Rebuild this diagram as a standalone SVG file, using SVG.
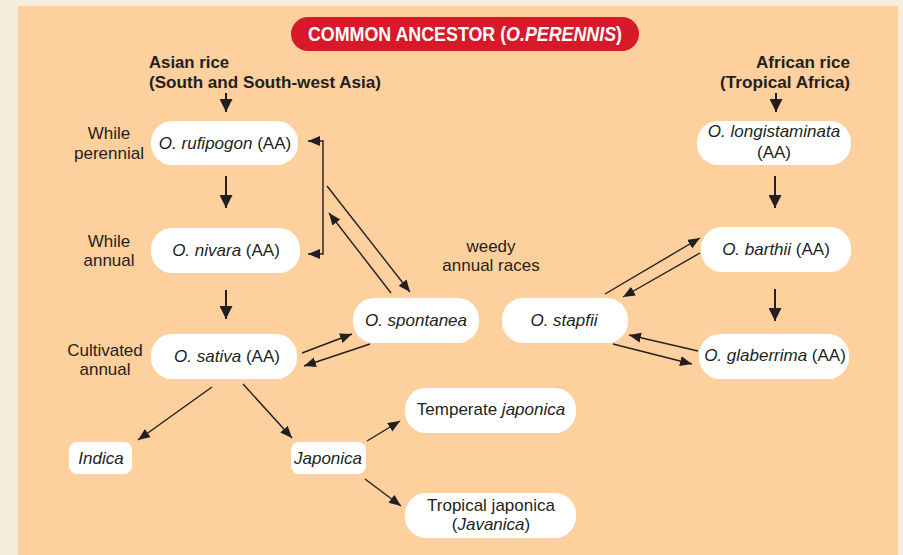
<svg xmlns="http://www.w3.org/2000/svg" width="903" height="555" viewBox="0 0 903 555">
<style>
.t{font-family:"Liberation Sans",Arial,sans-serif;font-size:17px;fill:#231F20}
.c{text-anchor:middle}
.i{font-style:italic}
.h{font-family:"Liberation Sans",Arial,sans-serif;font-size:17px;font-weight:bold;fill:#231F20}
.n{fill:#FFFFFF}
.ln{stroke:#231F20;stroke-width:1.4;fill:none}
.lv{stroke:#231F20;stroke-width:2;fill:none}
</style>
<defs>
<marker id="ah" markerUnits="userSpaceOnUse" markerWidth="13" markerHeight="11" refX="12" refY="5" orient="auto-start-reverse"><path d="M0,0 L12,5 L0,10 z" fill="#231F20"/></marker>
<marker id="av" markerUnits="userSpaceOnUse" markerWidth="14" markerHeight="13" refX="13" refY="6.5" orient="auto"><path d="M0,0 L13,6.5 L0,13 z" fill="#231F20"/></marker>
</defs>
<rect x="0" y="0" width="903" height="555" fill="#F5EEDC"/>
<rect x="18" y="6" width="880" height="549" fill="#FDD09D"/>

<g id="title">
<rect x="291" y="17" width="348" height="34" rx="17" fill="#D7192A"/>
<text transform="translate(465,41) scale(0.85,1)" x="0" y="0" text-anchor="middle" font-family="Liberation Sans, Arial, sans-serif" font-size="21" font-weight="bold" fill="#FFFFFF">COMMON ANCESTOR (<tspan font-style="italic">O.PERENNIS</tspan>)</text>
</g>

<g id="asian-header">
<text class="h" x="149" y="68" textLength="80" lengthAdjust="spacingAndGlyphs">Asian rice</text>
<text class="h" x="149" y="88" textLength="232" lengthAdjust="spacingAndGlyphs">(South and South-west Asia)</text>
</g>
<g id="african-header">
<text class="h" x="756" y="68" textLength="94" lengthAdjust="spacingAndGlyphs">African rice</text>
<text class="h" x="720" y="88" textLength="130" lengthAdjust="spacingAndGlyphs">(Tropical Africa)</text>
</g>

<g id="labels">
<text class="t c" x="109" y="139">While</text>
<text class="t c" x="109" y="159">perennial</text>
<text class="t c" x="109" y="247">While</text>
<text class="t c" x="109" y="266">annual</text>
<text class="t c" x="105" y="356">Cultivated</text>
<text class="t c" x="105" y="375">annual</text>
<text class="t c" x="491" y="252">weedy</text>
<text class="t c" x="491" y="271">annual races</text>
</g>

<g id="rufipogon">
<rect class="n" x="151" y="121" width="147" height="44" rx="21"/>
<text class="t c" x="225" y="149"><tspan class="i">O. rufipogon</tspan> (AA)</text>
</g>
<g id="nivara">
<rect class="n" x="151" y="228" width="149" height="45" rx="21"/>
<text class="t c" x="226" y="256"><tspan class="i">O. nivara</tspan> (AA)</text>
</g>
<g id="sativa">
<rect class="n" x="151" y="334" width="146" height="45" rx="21"/>
<text class="t c" x="227" y="362"><tspan class="i">O. sativa</tspan> (AA)</text>
</g>
<g id="spontanea">
<rect class="n" x="353" y="298" width="126" height="45" rx="21"/>
<text class="t c i" x="416" y="326">O. spontanea</text>
</g>
<g id="stapfii">
<rect class="n" x="502" y="298" width="126" height="45" rx="21"/>
<text class="t c i" x="564" y="326">O. stapfii</text>
</g>
<g id="longistaminata">
<rect class="n" x="697" y="121" width="154" height="44" rx="21"/>
<text class="t c i" x="774" y="137">O. longistaminata</text>
<text class="t c" x="774" y="158">(AA)</text>
</g>
<g id="barthii">
<rect class="n" x="701" y="227" width="150" height="45" rx="21"/>
<text class="t c" x="776" y="255"><tspan class="i">O. barthii</tspan> (AA)</text>
</g>
<g id="glaberrima">
<rect class="n" x="699" y="334" width="150" height="45" rx="21"/>
<text class="t c" x="775" y="361"><tspan class="i">O. glaberrima</tspan> (AA)</text>
</g>
<g id="indica">
<rect class="n" x="69" y="442" width="63" height="32" rx="8"/>
<text class="t c i" x="101" y="464">Indica</text>
</g>
<g id="japonica">
<rect class="n" x="291" y="442" width="75" height="32" rx="8"/>
<text class="t c i" x="328" y="464">Japonica</text>
</g>
<g id="temperate">
<rect class="n" x="405" y="388" width="171" height="45" rx="21"/>
<text class="t c" x="491" y="415">Temperate <tspan class="i">japonica</tspan></text>
</g>
<g id="tropical">
<rect class="n" x="405" y="493" width="171" height="45" rx="21"/>
<text class="t c" x="491" y="511">Tropical japonica</text>
<text class="t c" x="491" y="530">(<tspan class="i">Javanica</tspan>)</text>
</g>

<g id="connectors">
<line class="lv" x1="226" y1="93" x2="226" y2="112" marker-end="url(#av)"/>
<line class="lv" x1="776" y1="93" x2="776" y2="112" marker-end="url(#av)"/>
<line class="lv" x1="226" y1="176" x2="226" y2="208" marker-end="url(#av)"/>
<line class="lv" x1="226" y1="290" x2="226" y2="319" marker-end="url(#av)"/>
<line class="lv" x1="775" y1="176" x2="775" y2="208" marker-end="url(#av)"/>
<line class="lv" x1="775" y1="289" x2="775" y2="321" marker-end="url(#av)"/>
<path class="ln" d="M308,141 H323 V254 H308" marker-start="url(#ah)" marker-end="url(#ah)"/>
<line class="ln" x1="327" y1="186" x2="410" y2="292" marker-end="url(#ah)"/>
<line class="ln" x1="391" y1="293" x2="329" y2="213" marker-end="url(#ah)"/>
<line class="ln" x1="302" y1="353" x2="352" y2="334" marker-end="url(#ah)"/>
<line class="ln" x1="370" y1="344" x2="304" y2="366" marker-end="url(#ah)"/>
<line class="ln" x1="605" y1="294" x2="700" y2="238" marker-end="url(#ah)"/>
<line class="ln" x1="700" y1="253" x2="623" y2="297" marker-end="url(#ah)"/>
<line class="ln" x1="698" y1="351" x2="629" y2="335" marker-end="url(#ah)"/>
<line class="ln" x1="613" y1="344" x2="692" y2="364" marker-end="url(#ah)"/>
<line class="ln" x1="212" y1="387" x2="138" y2="440" marker-end="url(#ah)"/>
<line class="ln" x1="243" y1="384" x2="292" y2="438" marker-end="url(#ah)"/>
<line class="ln" x1="367" y1="441" x2="400" y2="421" marker-end="url(#ah)"/>
<line class="ln" x1="365" y1="479" x2="401" y2="506" marker-end="url(#ah)"/>
</g>
</svg>
